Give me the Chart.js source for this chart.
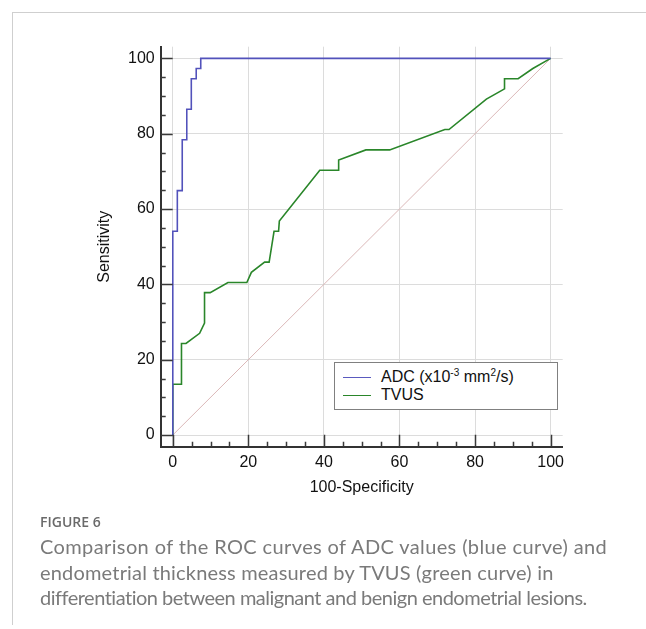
<!DOCTYPE html>
<html>
<head>
<meta charset="utf-8">
<script src="https://cdn.jsdelivr.net/npm/chart.js@4/dist/chart.umd.min.js"></script>
<style>
  html, body { margin: 0; padding: 0; background: #fff; }
  body { width: 646px; height: 629px; position: relative; overflow: hidden; }
  #frame { position: absolute; left: 12px; top: 12px; width: 700px; height: 612px;
           border-top: 1px solid #cfcfcf; border-left: 1px solid #cfcfcf; }
  #wrap { position: absolute; left: 0; top: 0; width: 646px; height: 520px; }
  #legend { position: absolute; left: 334px; top: 362px; width: 222px; height: 46px;
            border: 1px solid #808080; background: #fff;
            font: 16px 'Liberation Sans', Arial, sans-serif; color: #111; }
  .row { position: absolute; left: 0; height: 18px; line-height: 18px; white-space: nowrap; }
  .swatch { position: absolute; left: 8px; top: 9px; width: 28px; height: 0; border-top: 1.5px solid; }
  .lbl { position: absolute; left: 46px; top: 0; }
  sup { font-size: 10px; vertical-align: 6px; line-height: 0; }
  #caption { position: absolute; left: 40px; top: 510px; color: #7a7a7a;
             font-family: Lato, 'Open Sans', sans-serif; }
  #fig { font-family: 'Open Sans', sans-serif; font-size: 14px; font-weight: 600; color: #6a6a6a; line-height: 24px; }
  #text div { font-size: 20px; line-height: 25.5px; white-space: nowrap; }
</style>
</head>
<body>
<div id="frame"></div>
<div id="wrap"><canvas id="roc" width="646" height="520"></canvas></div>
<div id="legend">
  <div class="row" style="top:5px"><span class="swatch" style="border-color:#5a5abf"></span><span class="lbl">ADC (x10<sup>-3</sup> mm<sup>2</sup>/s)</span></div>
  <div class="row" style="top:23px"><span class="swatch" style="border-color:#2a862a"></span><span class="lbl">TVUS</span></div>
</div>
<div id="caption">
  <div id="fig">FIGURE 6</div>
  <div id="text">
    <div style="letter-spacing:0.38px">Comparison of the ROC curves of ADC values (blue curve) and</div>
    <div style="letter-spacing:0.18px">endometrial thickness measured by TVUS (green curve) in</div>
    <div style="letter-spacing:-0.5px">differentiation between malignant and benign endometrial lesions.</div>
  </div>
</div>
<script>
// ROC points (100-Specificity, Sensitivity)
const adcFpr = [0, 0, 1.2, 1.2, 2.5, 2.5, 3.7, 3.7, 4.9, 4.9, 6.2, 6.2, 7.4, 7.4, 100];
const adcTpr = [0, 54.1, 54.1, 64.9, 64.9, 78.4, 78.4, 86.5, 86.5, 94.6, 94.6, 97.3, 97.3, 100, 100];

const tvusFpr = [0, 0, 2.3, 2.3, 3.5, 7.1, 8.4, 8.4, 9.9, 14.6, 19.6, 20.8, 24.3, 25.5, 26.8, 28.0, 28.2,
                 38.9, 43.9, 43.9, 51.1, 57.4, 72.0, 73.1, 83.0, 87.8, 87.8, 91.4, 95.3, 100];
const tvusTpr = [0, 13.5, 13.5, 24.3, 24.3, 27.0, 29.7, 37.8, 37.8, 40.5, 40.5, 43.2, 45.9, 45.9, 54.1, 54.1, 56.8,
                 70.3, 70.3, 73.0, 75.7, 75.7, 81.1, 81.1, 89.2, 91.9, 94.6, 94.6, 97.3, 100];

const refLine = [0, 100];
const tickValues = [0, 5, 10, 15, 20, 25, 30, 35, 40, 45, 50, 55, 60, 65, 70, 75, 80, 85, 90, 95, 100];
const labelStep = 20;

const toPoints = (xs, ys) => xs.map((x, i) => ({ x: x, y: ys[i] }));

// short tick marks pointing into the plot, like the original software draws them
const insideTicks = {
    id: 'insideTicks',
    afterDraw(chart) {
        const { ctx, scales: { x, y } } = chart;
        ctx.save();
        ctx.strokeStyle = '#3a3a3a';
        ctx.lineWidth = 1.5;
        ctx.beginPath();
        x.ticks.forEach(t => {
            const px = Math.round(x.getPixelForValue(t.value)) + 0.5;
            const len = t.value % labelStep === 0 ? 12 : 5;
            ctx.moveTo(px, x.top);
            ctx.lineTo(px, x.top - len);
        });
        y.ticks.forEach(t => {
            const py = Math.round(y.getPixelForValue(t.value)) + 0.5;
            const len = t.value % labelStep === 0 ? 12 : 5;
            ctx.moveTo(y.right, py);
            ctx.lineTo(y.right + len, py);
        });
        ctx.stroke();
        ctx.restore();
    }
};

const gridColor = (c) => (c.tick && c.tick.value % labelStep === 0) ? '#dcdcdc' : 'rgba(0,0,0,0)';
const setTicks = (scale) => { scale.ticks = tickValues.map(v => ({ value: v })); };
const tickFont = { family: "'Liberation Sans', Arial, sans-serif", size: 16 };
const titleFont = { family: "'Liberation Sans', Arial, sans-serif", size: 16 };

new Chart(document.getElementById('roc').getContext('2d'), {
    type: 'line',
    data: {
        datasets: [
            {
                label: 'Reference',
                data: toPoints(refLine, refLine),
                borderColor: '#dbb8b8',
                borderWidth: 1,
                pointRadius: 0,
                order: 3
            },
            {
                label: 'TVUS',
                data: toPoints(tvusFpr, tvusTpr),
                borderColor: '#2a862a',
                borderWidth: 1.6,
                pointRadius: 0,
                order: 2
            },
            {
                label: 'ADC (x10-3 mm2/s)',
                data: toPoints(adcFpr, adcTpr),
                borderColor: '#5252bb',
                borderWidth: 1.6,
                pointRadius: 0,
                order: 1
            }
        ]
    },
    options: {
        responsive: false,
        animation: false,
        devicePixelRatio: 1,
        layout: { padding: { top: 46.7, right: 83.3, bottom: 0, left: 0 } },
        plugins: { legend: { display: false }, tooltip: { enabled: false } },
        scales: {
            x: {
                type: 'linear',
                min: -3.2,
                max: 103.2,
                afterBuildTicks: setTicks,
                afterFit: (s) => { s.height = 73.3; },
                grid: { color: gridColor, drawTicks: false },
                border: { display: true, color: '#333', width: 2 },
                ticks: {
                    color: '#111',
                    font: tickFont,
                    padding: 6,
                    maxRotation: 0,
                    autoSkip: false,
                    callback: (v) => v % labelStep === 0 ? v : ''
                },
                title: {
                    display: true,
                    text: '100-Specificity',
                    color: '#111',
                    font: titleFont,
                    padding: { top: 0, bottom: 23 }
                }
            },
            y: {
                type: 'linear',
                min: -3.1,
                max: 103.1,
                afterBuildTicks: setTicks,
                afterFit: (s) => { s.width = 160.7; },
                grid: { color: gridColor, drawTicks: false },
                border: { display: true, color: '#333', width: 2 },
                ticks: {
                    color: '#111',
                    font: tickFont,
                    padding: 6,
                    autoSkip: false,
                    callback: (v) => v % labelStep === 0 ? v : ''
                },
                title: {
                    display: true,
                    text: 'Sensitivity',
                    color: '#111',
                    font: titleFont,
                    padding: { top: 95, bottom: 0 }
                }
            }
        }
    },
    plugins: [insideTicks]
});
</script>
</body>
</html>
